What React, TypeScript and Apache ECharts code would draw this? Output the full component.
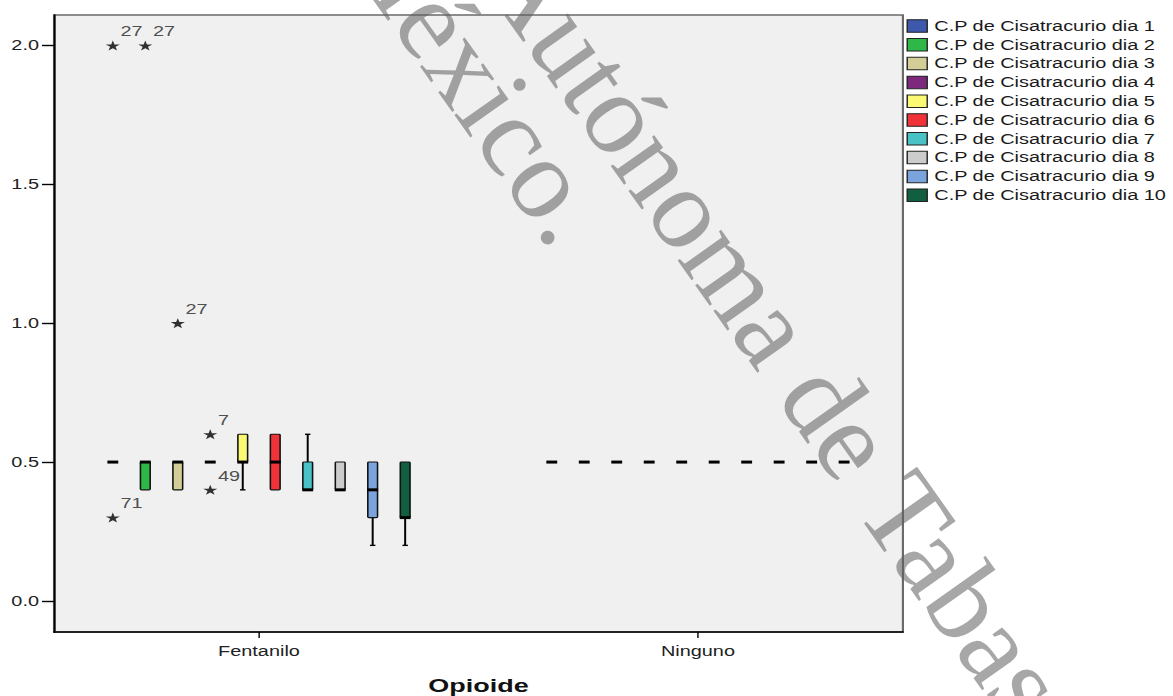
import { useEffect, useRef } from "react";
import * as echarts from "echarts";

// ---- data ----
const groups = ["Fentanilo", "Ninguno"];
const dayNames = [
  "C.P de Cisatracurio dia 1",
  "C.P de Cisatracurio dia 2",
  "C.P de Cisatracurio dia 3",
  "C.P de Cisatracurio dia 4",
  "C.P de Cisatracurio dia 5",
  "C.P de Cisatracurio dia 6",
  "C.P de Cisatracurio dia 7",
  "C.P de Cisatracurio dia 8",
  "C.P de Cisatracurio dia 9",
  "C.P de Cisatracurio dia 10",
];
const dayColors = [
  "#3e58ac", "#2eb848", "#d3ce97", "#7c287d", "#fbf873",
  "#ef3338", "#48c2c5", "#cccccc", "#7ba4dd", "#115e41",
];
// five-number summaries per day: [min, Q1, median, Q3, max]
const fentaniloStats = [
  [0.5, 0.5, 0.5, 0.5, 0.5],
  [0.4, 0.4, 0.5, 0.5, 0.5],
  [0.4, 0.4, 0.5, 0.5, 0.5],
  [0.5, 0.5, 0.5, 0.5, 0.5],
  [0.4, 0.5, 0.5, 0.6, 0.6],
  [0.4, 0.4, 0.5, 0.6, 0.6],
  [0.4, 0.4, 0.4, 0.5, 0.6],
  [0.4, 0.4, 0.4, 0.5, 0.5],
  [0.2, 0.3, 0.4, 0.5, 0.5],
  [0.2, 0.3, 0.3, 0.5, 0.5],
];
const ningunoStats = [
  [0.5, 0.5, 0.5, 0.5, 0.5],
  [0.5, 0.5, 0.5, 0.5, 0.5],
  [0.5, 0.5, 0.5, 0.5, 0.5],
  [0.5, 0.5, 0.5, 0.5, 0.5],
  [0.5, 0.5, 0.5, 0.5, 0.5],
  [0.5, 0.5, 0.5, 0.5, 0.5],
  [0.5, 0.5, 0.5, 0.5, 0.5],
  [0.5, 0.5, 0.5, 0.5, 0.5],
  [0.5, 0.5, 0.5, 0.5, 0.5],
  [0.5, 0.5, 0.5, 0.5, 0.5],
];
// extreme values (Fentanilo group): day index, value, case number
const outlierDay = [0, 0, 1, 2, 3, 3];
const outlierValue = [2.0, 0.3, 2.0, 1.0, 0.6, 0.4];
const outlierCase = ["27", "71", "27", "27", "7", "49"];
const yTicks = [0, 0.5, 1.0, 1.5, 2.0];

// ---- layout ----
const W = 1173;
const H = 696;
const S = 1.42; // horizontal stretch of the whole drawing
const hx = (v: number) => v / S;
const BOX_SPACING = 0.074; // distance between neighbouring days, in x units
const X_MIN = -0.467;
const X_MAX = 1.467;
const SANS = "'Liberation Sans', Arial, sans-serif";

const dayX = (g: number, k: number) => g + (k - 4.5) * BOX_SPACING;

const STAR =
  "path://M50,0 L61,35 L98,35 L68,57 L79,91 L50,70 L21,91 L32,57 L2,35 L39,35 Z";

function renderBox(color: string) {
  return (params: any, api: any) => {
    const x = api.value(0);
    const lo = api.value(1);
    const q1 = api.value(2);
    const med = api.value(3);
    const q3 = api.value(4);
    const hi = api.value(5);
    const cx = api.coord([x, med])[0];
    const y = (v: number) => api.coord([x, v])[1];
    const bw = api.size([BOX_SPACING, 0])[0] * 0.3;
    const cap = bw * 0.28;
    const children: any[] = [];
    const line = (x1: number, y1: number, x2: number, y2: number, w: number) => ({
      type: "line",
      shape: { x1, y1, x2, y2 },
      style: { stroke: "#000", lineWidth: w },
    });
    if (lo < q1) {
      children.push(line(cx, y(q1), cx, y(lo), 1.4));
      children.push(line(cx - cap, y(lo), cx + cap, y(lo), 1.4));
    }
    if (hi > q3) {
      children.push(line(cx, y(q3), cx, y(hi), 1.4));
      children.push(line(cx - cap, y(hi), cx + cap, y(hi), 1.4));
    }
    if (q3 > q1) {
      children.push({
        type: "rect",
        shape: { x: cx - bw / 2, y: y(q3), width: bw, height: y(q1) - y(q3), r: 0.8 },
        style: { fill: color, stroke: "#111", lineWidth: 1.1 },
      });
    }
    children.push(line(cx - bw / 2 - 0.4, y(med), cx + bw / 2 + 0.4, y(med), 3));
    return { type: "group", children };
  };
}

const boxSeries = dayNames.map((name, k) => ({
  name,
  type: "custom",
  itemStyle: { color: dayColors[k] },
  renderItem: renderBox(dayColors[k]),
  encode: { x: 0, y: [1, 2, 3, 4, 5] },
  data: [
    [dayX(0, k), ...fentaniloStats[k]],
    [dayX(1, k), ...ningunoStats[k]],
  ],
  z: 3,
}));

const outlierSeries = {
  name: "extremos",
  type: "scatter",
  symbol: STAR,
  symbolSize: [10, 10],
  itemStyle: { color: "#000" },
  label: {
    show: true,
    formatter: "{b}",
    position: [10.4, -9],
    align: "left",
    verticalAlign: "middle",
    fontSize: 14,
    fontFamily: SANS,
    color: "#222",
  },
  data: outlierDay.map((d, i) => ({
    name: outlierCase[i],
    value: [dayX(0, d), outlierValue[i]],
  })),
  z: 4,
};

// background lettering, laid out in unstretched pixels
function watermark(text: string, rx: number, ry: number) {
  return {
    type: "group",
    x: hx(rx),
    y: ry,
    scaleX: 1 / S,
    z: 100,
    silent: true,
    children: [
      {
        type: "text",
        rotation: (-54.7 * Math.PI) / 180,
        style: {
          text,
          x: 0,
          y: 0,
          align: "left",
          verticalAlign: "middle",
          font: "116px 'Liberation Serif', 'Times New Roman', serif",
          fill: "rgba(95,95,95,0.55)",
        },
      },
    ],
  };
}

const option: any = {
  animation: false,
  backgroundColor: "#ffffff",
  grid: {
    left: hx(54),
    right: hx(W - 903),
    top: 15,
    bottom: H - 632,
    outerBoundsMode: "none",
    containLabel: false,
    show: true,
    backgroundColor: "#f0f0f0",
    borderColor: "#6a6a6a",
    borderWidth: 1.5,
  },
  legend: {
    data: dayNames,
    orient: "vertical",
    left: hx(906.5),
    top: 19,
    padding: 0,
    icon: "rect",
    itemWidth: hx(20),
    itemHeight: 12.5,
    itemGap: 4.8,
    itemStyle: { borderColor: "#222", borderWidth: 1 },
    textStyle: { fontSize: 14, lineHeight: 14, color: "#1a1a1a", fontFamily: SANS },
  },
  xAxis: {
    type: "value",
    min: X_MIN,
    max: X_MAX,
    name: "Opioide",
    nameLocation: "middle",
    nameGap: 44,
    nameTextStyle: { fontSize: 19, fontWeight: "bold", color: "#111", fontFamily: SANS },
    splitLine: { show: false },
    axisLine: { show: true, onZero: false, lineStyle: { color: "#000", width: 1.6 } },
    axisTick: {
      show: true,
      length: 6,
      customValues: [0, 1],
      lineStyle: { color: "#000", width: 1 },
    },
    axisLabel: {
      customValues: [0, 1],
      formatter: (v: number) => groups[Math.round(v)] ?? "",
      margin: 12,
      fontSize: 14,
      color: "#222",
      fontFamily: SANS,
    },
  },
  yAxis: {
    type: "value",
    min: -0.112,
    max: 2.11,
    splitLine: { show: false },
    axisLine: { show: true, onZero: false, lineStyle: { color: "#000", width: 1.4 } },
    axisTick: {
      show: true,
      length: hx(12),
      customValues: yTicks,
      lineStyle: { color: "#000", width: 1.4 },
    },
    axisLabel: {
      customValues: yTicks,
      formatter: (v: number) => v.toFixed(1),
      margin: hx(15),
      fontSize: 14,
      color: "#222",
      fontFamily: SANS,
    },
  },
  graphic: [
    watermark("Autónoma de Tabasco.", 507, -48),
    watermark("México.", 362, -83),
  ],
  series: [...boxSeries, outlierSeries],
};

export default function App() {
  const ref = useRef<HTMLDivElement>(null);
  useEffect(() => {
    if (!ref.current) return;
    const chart = echarts.init(ref.current, null, { renderer: "svg" });
    chart.setOption(option);
    return () => chart.dispose();
  }, []);
  return (
    <div
      style={{
        position: "absolute",
        left: 0,
        top: 0,
        width: W,
        height: H,
        overflow: "hidden",
        background: "#fff",
      }}
    >
      <div
        ref={ref}
        style={{
          width: W / S,
          height: H,
          transform: `scaleX(${S})`,
          transformOrigin: "0 0",
        }}
      />
    </div>
  );
}
